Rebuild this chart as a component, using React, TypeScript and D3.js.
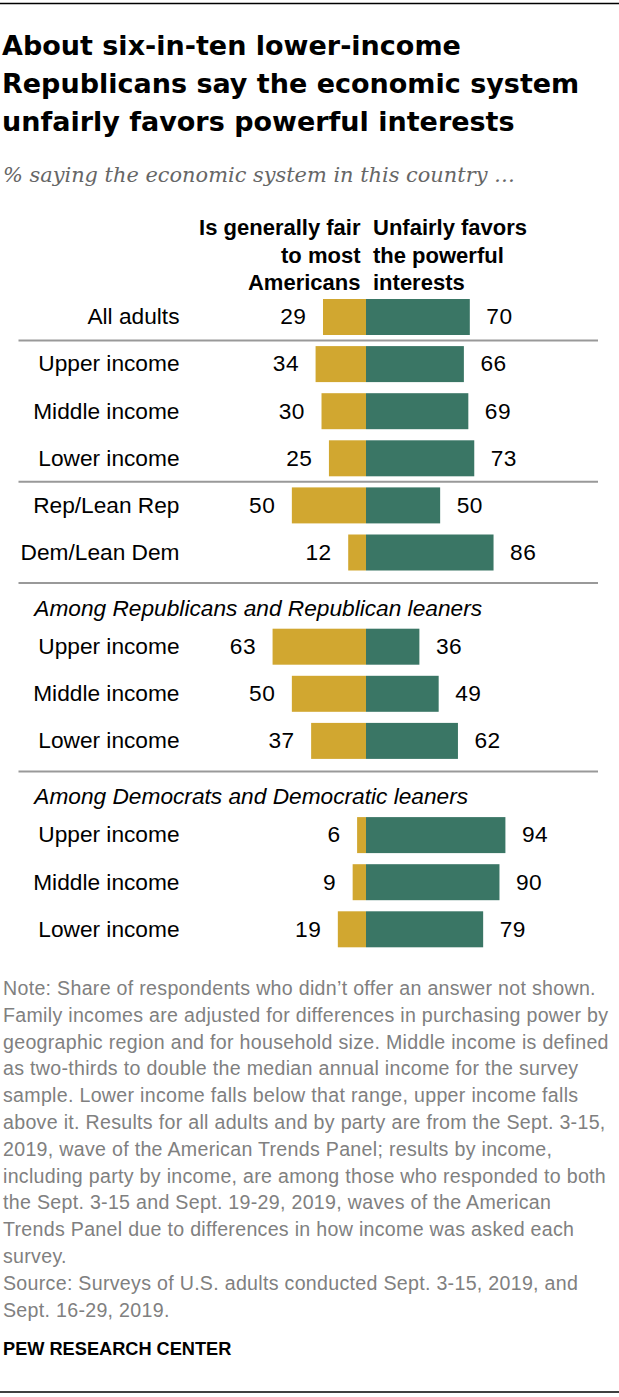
import * as d3 from "d3";

const W = 619;
const H = 1397;

const titleLines = [
  "About six-in-ten lower-income",
  "Republicans say the economic system",
  "unfairly favors powerful interests",
];
const subtitle = "% saying the economic system in this country …";
const fairHeader = ["Is generally fair", "to most", "Americans"];
const unfairHeader = ["Unfairly favors", "the powerful", "interests"];

const categories = [
  "All adults",
  "Upper income",
  "Middle income",
  "Lower income",
  "Rep/Lean Rep",
  "Dem/Lean Dem",
  "Upper income",
  "Middle income",
  "Lower income",
  "Upper income",
  "Middle income",
  "Lower income",
];
const fairValues = [29, 34, 30, 25, 50, 12, 63, 50, 37, 6, 9, 19];
const unfairValues = [70, 66, 69, 73, 50, 86, 36, 49, 62, 94, 90, 79];
const groupHeaders = [
  "Among Republicans and Republican leaners",
  "Among Democrats and Democratic leaners",
];

const noteLines = [
  "Note: Share of respondents who didn’t offer an answer not shown.",
  "Family incomes are adjusted for differences in purchasing power by",
  "geographic region and for household size. Middle income is defined",
  "as two-thirds to double the median annual income for the survey",
  "sample. Lower income falls below that range, upper income falls",
  "above it. Results for all adults and by party are from the Sept. 3-15,",
  "2019, wave of the American Trends Panel; results by income,",
  "including party by income, are among those who responded to both",
  "the Sept. 3-15 and Sept. 19-29, 2019, waves of the American",
  "Trends Panel due to differences in how income was asked each",
  "survey.",
  "Source: Surveys of U.S. adults conducted Sept. 3-15, 2019, and",
  "Sept. 16-29, 2019.",
];

const SANS = "'Liberation Sans', Arial, sans-serif";
const TITLE = "'DejaVu Sans', 'Liberation Sans', sans-serif";
const SERIF = "'DejaVu Serif', 'Liberation Serif', serif";
const GOLD = "#d1a730";
const GREEN = "#3a7665";

// slot layout: rows 0-5, header, rows 6-8, header, rows 9-11
const slotOf = [0, 1, 2, 3, 4, 5, 7, 8, 9, 11, 12, 13];
const headerSlots = [6, 10];
const sepBefore = [1, 4];

export default function App() {
  const cx = 366;
  const x = d3.scaleLinear().domain([0, 100]).range([0, 148.3]);
  const y = d3.scaleLinear().domain([0, 13]).range([317, 929.3]);
  const barH = 36;
  const gap = 16.5;

  return (
    <svg
      width={W}
      height={H}
      viewBox={`0 0 ${W} ${H}`}
      style={{ position: "absolute", left: 0, top: 0, background: "#fff" }}
    >
      <line x1={0} x2={W} y1={3.5} y2={3.5} stroke="#000" strokeWidth={1.5} />

      {titleLines.map((t, i) => (
        <text
          key={i}
          x={2}
          y={54.5 + i * 38.3}
          fontFamily={TITLE}
          fontWeight="bold"
          fontSize={27}
          fill="#000"
        >
          {t}
        </text>
      ))}

      <text
        x={3}
        y={182}
        fontFamily={SERIF}
        fontStyle="italic"
        fontSize={20.9}
        fill="#666"
      >
        {subtitle}
      </text>

      {fairHeader.map((t, i) => (
        <text
          key={"f" + i}
          x={360.5}
          y={235 + i * 27.5}
          textAnchor="end"
          fontFamily={SANS}
          fontWeight="bold"
          fontSize={22}
          fill="#000"
        >
          {t}
        </text>
      ))}
      {unfairHeader.map((t, i) => (
        <text
          key={"u" + i}
          x={373}
          y={235 + i * 27.5}
          fontFamily={SANS}
          fontWeight="bold"
          fontSize={22}
          fill="#000"
        >
          {t}
        </text>
      ))}

      {sepBefore.map((s) => (
        <line
          key={"s" + s}
          x1={18.5}
          x2={598}
          y1={(y(s) + y(s - 1)) / 2}
          y2={(y(s) + y(s - 1)) / 2}
          stroke="#999"
          strokeWidth={2}
        />
      ))}
      {headerSlots.map((s, i) => (
        <g key={"h" + s}>
          <line
            x1={18.5}
            x2={598}
            y1={y(s) - 16.5}
            y2={y(s) - 16.5}
            stroke="#999"
            strokeWidth={2}
          />
          <text
            x={34.3}
            y={y(s) + 16}
            fontFamily={SANS}
            fontStyle="italic"
            fontSize={22.7}
            fill="#000"
          >
            {groupHeaders[i]}
          </text>
        </g>
      ))}

      {categories.map((c, i) => {
        const cy = y(slotOf[i]);
        const fw = x(fairValues[i]);
        const uw = x(unfairValues[i]);
        return (
          <g key={"r" + i}>
            <text
              x={179.5}
              y={cy + 7.3}
              textAnchor="end"
              fontFamily={SANS}
              fontSize={22.7}
              fill="#000"
            >
              {c}
            </text>
            <rect x={cx - fw} y={cy - barH / 2} width={fw} height={barH} fill={GOLD} />
            <rect x={cx} y={cy - barH / 2} width={uw} height={barH} fill={GREEN} />
            <text
              x={cx - fw - gap}
              y={cy + 7.3}
              textAnchor="end"
              fontFamily={SANS}
              fontSize={22.7}
              letterSpacing={0.5}
              fill="#000"
            >
              {fairValues[i]}
            </text>
            <text
              x={cx + uw + gap}
              y={cy + 7.3}
              fontFamily={SANS}
              fontSize={22.7}
              letterSpacing={0.5}
              fill="#000"
            >
              {unfairValues[i]}
            </text>
          </g>
        );
      })}

      {noteLines.map((t, i) => (
        <text
          key={"n" + i}
          x={3}
          y={995 + i * 26.8}
          fontFamily={SANS}
          fontSize={19.6}
          letterSpacing={0.3}
          fill="#808080"
        >
          {t}
        </text>
      ))}

      <text x={3} y={1355} fontFamily={SANS} fontWeight="bold" fontSize={18.2} fill="#000">
        PEW RESEARCH CENTER
      </text>

      <line x1={0} x2={W} y1={1392} y2={1392} stroke="#000" strokeWidth={1.5} />
    </svg>
  );
}
